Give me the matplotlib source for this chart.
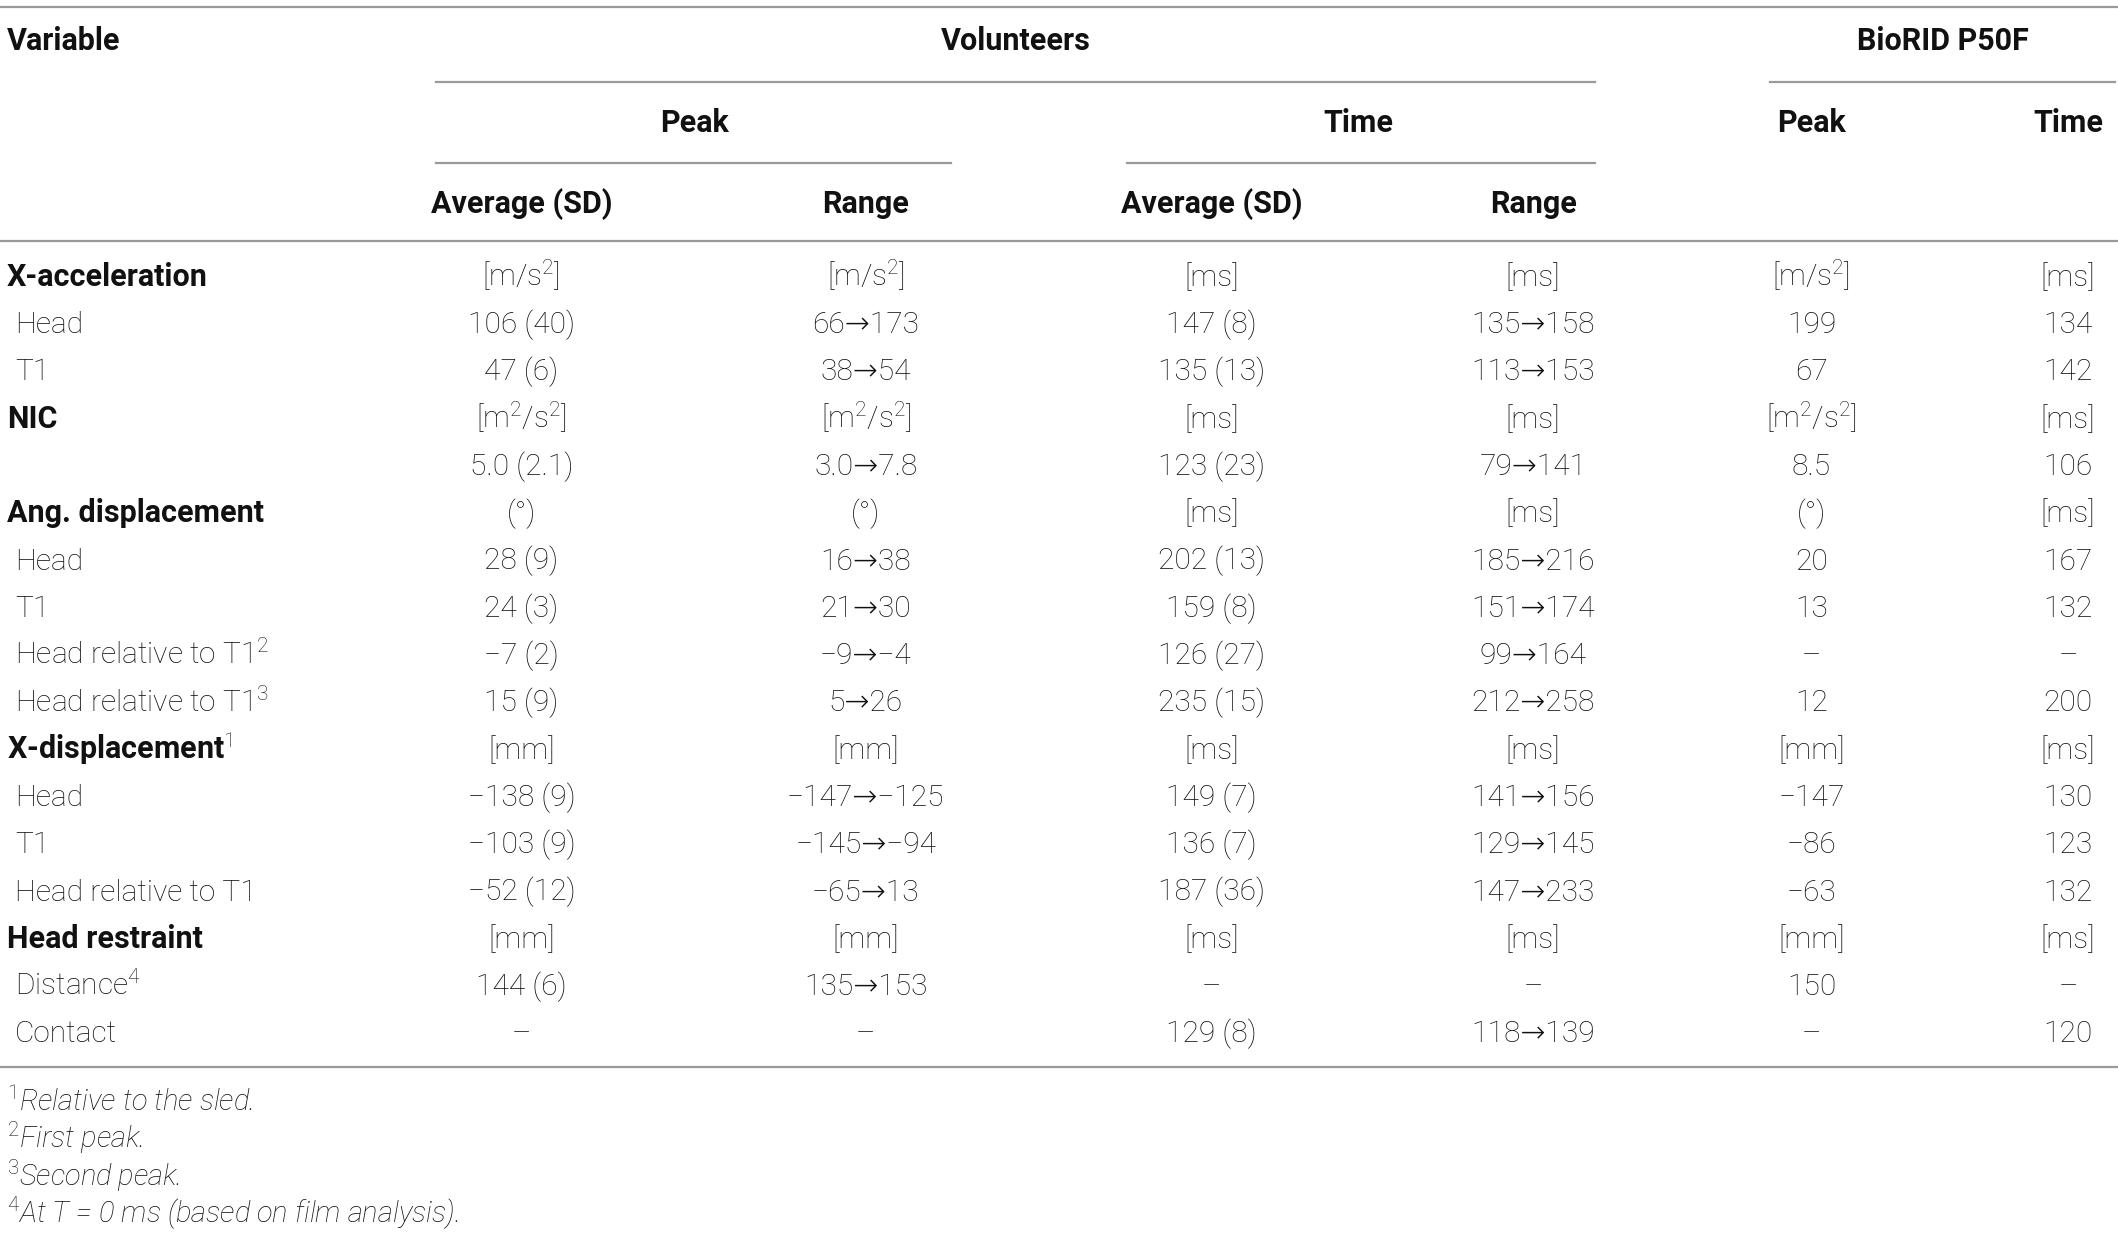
import matplotlib
matplotlib.use('Agg')
import matplotlib.pyplot as plt

# 表格数据
row_labels = ['X-acceleration', 'Head', 'T1', 'NIC', '', 'Ang. displacement', 'Head', 'T1',
              'Head relative to T1$^2$', 'Head relative to T1$^3$', 'X-displacement$^1$', 'Head', 'T1',
              'Head relative to T1', 'Head restraint', 'Distance$^4$', 'Contact']
group_rows = [0, 3, 5, 10, 14]
vol_peak_avg = ['[m/s$^2$]', '106 (40)', '47 (6)', '[m$^2$/s$^2$]', '5.0 (2.1)', '(°)', '28 (9)', '24 (3)',
                '−7 (2)', '15 (9)', '[mm]', '−138 (9)', '−103 (9)', '−52 (12)', '[mm]', '144 (6)', '–']
vol_peak_range = ['[m/s$^2$]', '66→173', '38→54', '[m$^2$/s$^2$]', '3.0→7.8', '(°)', '16→38', '21→30',
                  '−9→−4', '5→26', '[mm]', '−147→−125', '−145→−94', '−65→13', '[mm]', '135→153', '–']
vol_time_avg = ['[ms]', '147 (8)', '135 (13)', '[ms]', '123 (23)', '[ms]', '202 (13)', '159 (8)',
                '126 (27)', '235 (15)', '[ms]', '149 (7)', '136 (7)', '187 (36)', '[ms]', '–', '129 (8)']
vol_time_range = ['[ms]', '135→158', '113→153', '[ms]', '79→141', '[ms]', '185→216', '151→174',
                  '99→164', '212→258', '[ms]', '141→156', '129→145', '147→233', '[ms]', '–', '118→139']
biorid_peak = ['[m/s$^2$]', '199', '67', '[m$^2$/s$^2$]', '8.5', '(°)', '20', '13',
               '–', '12', '[mm]', '−147', '−86', '−63', '[mm]', '150', '–']
biorid_time = ['[ms]', '134', '142', '[ms]', '106', '[ms]', '167', '132',
               '–', '200', '[ms]', '130', '123', '132', '[ms]', '–', '120']
footnotes = ['$^1$Relative to the sled.', '$^2$First peak.', '$^3$Second peak.',
             '$^4$At T = 0 ms (based on film analysis).']

columns = [vol_peak_avg, vol_peak_range, vol_time_avg, vol_time_range, biorid_peak, biorid_time]
col_x = [386, 641, 897, 1135, 1341, 1531]

plt.rcParams['font.family'] = ['Roboto', 'DejaVu Sans']
plt.rcParams['mathtext.fontset'] = 'custom'
plt.rcParams['mathtext.rm'] = 'Roboto:light'
plt.rcParams['mathtext.it'] = 'Roboto:light'
plt.rcParams['mathtext.bf'] = 'Roboto'
txt = '#111111'
line_c = '#9a9a9a'
fs = 21.5
fsb = 22

fig = plt.figure(figsize=(21.18, 12.35), dpi=100)
ax = fig.add_axes([0, 0, 1, 1])
ax.set_xlim(0, 1568)
ax.set_ylim(914, 0)
ax.axis('off')

# 表头
ax.text(5, 30, 'Variable', fontsize=fsb, fontweight='bold', color=txt, va='center')
ax.text(752, 30, 'Volunteers', fontsize=fsb, fontweight='bold', color=txt, va='center', ha='center')
ax.text(1438, 30, 'BioRID P50F', fontsize=fsb, fontweight='bold', color=txt, va='center', ha='center')
for x, s in zip([514, 1006, 1341, 1531], ['Peak', 'Time', 'Peak', 'Time']):
    ax.text(x, 91, s, fontsize=fsb, fontweight='bold', color=txt, va='center', ha='center')
for x, s in zip(col_x[:4], ['Average (SD)', 'Range', 'Average (SD)', 'Range']):
    ax.text(x, 151, s, fontsize=fsb, fontweight='bold', color=txt, va='center', ha='center')

# 横线
ax.plot([0, 1568], [5, 5], color=line_c, lw=1.6)
ax.plot([323, 1181], [61, 61], color=line_c, lw=1.6)
ax.plot([1310, 1566], [61, 61], color=line_c, lw=1.6)
ax.plot([323, 704], [121, 121], color=line_c, lw=1.6)
ax.plot([834, 1181], [121, 121], color=line_c, lw=1.6)
ax.plot([0, 1568], [178, 178], color=line_c, lw=1.6)
ax.plot([0, 1568], [790, 790], color=line_c, lw=1.6)

# 数据行 (基线对齐)
for i, lab in enumerate(row_labels):
    y = 204 + 35 * i + 7.5
    if i in group_rows:
        ax.text(5, y, lab, fontsize=fsb, fontweight='bold', color=txt, va='baseline')
    else:
        ax.text(11, y, lab, fontsize=fs, color=txt, va='baseline', fontweight='light')
    for x, col in zip(col_x, columns):
        ax.text(x, y, col[i], fontsize=fs, color=txt, va='baseline', ha='center', fontweight='light')

# 脚注
for j, s in enumerate(footnotes):
    ax.text(5, 815 + 27.7 * j + 7, s, fontsize=21, color=txt, va='baseline', style='italic',
            fontweight='light')

fig.savefig('out.png', dpi=100)
